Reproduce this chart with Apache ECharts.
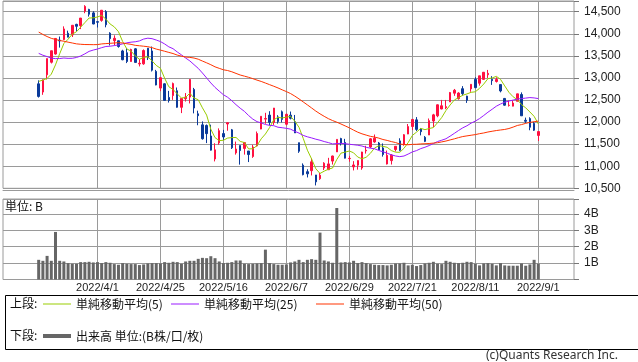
<!DOCTYPE html>
<html><head><meta charset="utf-8">
<script src="https://cdn.jsdelivr.net/npm/echarts@6/dist/echarts.min.js"></script>
<style>html,body{margin:0;padding:0;background:#fff}#c{width:638px;height:362px}</style>
</head><body><div id="c"></div>
<script>
// ---- data ----
const dates = [
 '2022/3/14','2022/3/15','2022/3/16','2022/3/17','2022/3/18','2022/3/21','2022/3/22','2022/3/23','2022/3/24','2022/3/25','2022/3/28','2022/3/29','2022/3/30','2022/3/31',
 '2022/4/1','2022/4/4','2022/4/5','2022/4/6','2022/4/7','2022/4/8','2022/4/11','2022/4/12','2022/4/13','2022/4/14','2022/4/18','2022/4/19','2022/4/20','2022/4/21','2022/4/22','2022/4/25','2022/4/26','2022/4/27','2022/4/28','2022/4/29',
 '2022/5/2','2022/5/3','2022/5/4','2022/5/5','2022/5/6','2022/5/9','2022/5/10','2022/5/11','2022/5/12','2022/5/13','2022/5/16','2022/5/17','2022/5/18','2022/5/19','2022/5/20','2022/5/23','2022/5/24','2022/5/25','2022/5/26','2022/5/27','2022/5/31',
 '2022/6/1','2022/6/2','2022/6/3','2022/6/6','2022/6/7','2022/6/8','2022/6/9','2022/6/10','2022/6/13','2022/6/14','2022/6/15','2022/6/16','2022/6/17','2022/6/21','2022/6/22','2022/6/23','2022/6/24','2022/6/27','2022/6/28','2022/6/29','2022/6/30',
 '2022/7/1','2022/7/5','2022/7/6','2022/7/7','2022/7/8','2022/7/11','2022/7/12','2022/7/13','2022/7/14','2022/7/15','2022/7/18','2022/7/19','2022/7/20','2022/7/21','2022/7/22','2022/7/25','2022/7/26','2022/7/27','2022/7/28','2022/7/29',
 '2022/8/1','2022/8/2','2022/8/3','2022/8/4','2022/8/5','2022/8/8','2022/8/9','2022/8/10','2022/8/11','2022/8/12','2022/8/15','2022/8/16','2022/8/17','2022/8/18','2022/8/19','2022/8/22','2022/8/23','2022/8/24','2022/8/25','2022/8/26','2022/8/29','2022/8/30','2022/8/31',
 '2022/9/1'
];
const tickLabels = ['2022/4/1','2022/4/25','2022/5/16','2022/6/7','2022/6/29','2022/7/21','2022/8/11','2022/9/1'];

const opens = [
 12866,12680,13070,13355,13541,13855,13868,14011,13980,14213,14183,14512,14551,14473,
 14274,14303,14502,14014,13843,13841,13611,13570,13371,13659,13316,13319,13674,13611,13148,12770,12867,12558,12600,12709,
 12334,12529,12566,12738,12187,11937,11923,11685,11164,11529,11739,11956,11824,11302,11469,11403,11345,11220,11461,11842,12067,
 12158,11992,12117,12233,11951,12157,12007,11533,11024,10876,10899,10802,10717,10959,10921,11116,11324,11627,11539,11172,10985,
 11024,10960,11348,11436,11550,11526,11414,11050,11127,11378,11574,11495,11729,11900,12050,11840,11655,11707,12025,12142,
 12297,12323,12456,12654,12529,12756,12588,12751,12968,12880,12967,13072,12969,12919,12849,12535,12377,12361,12471,12624,12041,12079,11970,
 11697
];
const highs = [
 12945,12965,13437,13616,13899,13937,14168,14070,14197,14226,14357,14647,14565,14509,
 14278,14534,14535,14034,13964,13847,13637,13670,13661,13676,13429,13646,13675,13711,13182,13009,12878,12706,12895,12783,
 12539,12657,12975,12774,12258,12015,11945,11941,11520,11857,11823,11985,11844,11558,11469,11549,11345,11484,11786,12131,12209,
 12246,12320,12156,12262,12191,12238,12161,11534,11064,10931,11178,10802,10850,11091,11190,11239,11608,11644,11620,11234,11115,
 11133,11327,11462,11636,11718,11549,11516,11355,11274,11457,11633,11728,11956,12063,12113,11864,11683,12081,12186,12401,
 12502,12501,12682,12750,12676,12814,12596,12856,13015,13047,13132,13181,13040,13014,12851,12546,12485,12488,12640,12672,12101,12109,12003,
 11787
];
const lows = [
 12555,12617,12965,13327,13527,13687,13856,13920,13927,14054,14106,14465,14389,14217,
 14142,14273,14146,13735,13737,13685,13400,13336,13367,13350,13260,13297,13405,13146,12833,12700,12490,12442,12503,12325,
 12203,12465,12422,12197,11928,11602,11524,11355,11109,11487,11597,11804,11390,11263,11036,11263,11094,11190,11448,11839,11963,
 11925,11935,11965,11992,11926,12060,11753,11303,10793,10746,10791,10565,10690,10913,10919,11038,11324,11470,11178,11102,10905,
 10922,10920,11286,11412,11531,11369,11218,11040,11039,11334,11340,11464,11727,11818,11797,11699,11547,11707,11885,12110,
 12290,12292,12455,12594,12509,12599,12434,12686,12769,12825,12955,12999,12842,12895,12673,12371,12351,12357,12471,12141,11978,11815,11799,
 11572
];
const closes = [
 12581,12949,13437,13615,13894,13838,14109,13923,14192,14169,14355,14620,14442,14221,
 14262,14533,14204,13889,13897,13711,13412,13372,13644,13351,13332,13620,13453,13175,12839,13005,12491,12489,12872,12335,
 12536,12564,12965,12318,12145,11623,11738,11364,11371,11805,11663,11985,11418,11389,11355,11535,11264,11435,11741,12131,12081,
 11994,12317,12013,12061,12175,12086,11754,11340,10809,10828,11099,10646,10798,11069,11053,11232,11608,11525,11182,11178,11029,
 11128,11322,11362,11621,11635,11373,11265,11248,11251,11452,11360,11713,11898,12060,11834,11783,11563,12032,12163,12391,
 12369,12349,12668,12721,12658,12644,12494,12855,12780,13047,13128,13103,12938,12965,12705,12382,12381,12432,12639,12142,12018,11883,11816,
 11785
];
const ma5 = [
 12921,12952,12988,13085,13295,13547,13779,13876,13991,14046,14150,14252,14356,14361,
 14380,14416,14332,14222,14157,14047,13823,13656,13607,13498,13422,13464,13480,13386,13284,13218,12993,12800,12739,12638,
 12545,12559,12654,12544,12506,12323,12158,11838,11648,11580,11588,11638,11648,11652,11562,11536,11392,11396,11466,11621,11730,
 11876,12053,12107,12093,12112,12130,12018,11883,11633,11363,11166,10944,10836,10888,10933,10960,11152,11297,11320,11345,11304,
 11208,11168,11204,11292,11414,11463,11451,11428,11354,11318,11315,11405,11535,11697,11773,11858,11828,11854,11875,11986,
 12104,12261,12388,12500,12553,12608,12637,12674,12686,12764,12861,12983,12999,13036,12968,12819,12674,12573,12508,12395,12322,12229,12130,
 11957
];
const ma25 = [
 13556,13514,13483,13448,13437,13439,13451,13443,13445,13463,13496,13545,13601,13631,
 13654,13685,13712,13718,13732,13748,13771,13794,13810,13819,13838,13880,13900,13889,13858,13823,13769,13704,13662,13588,
 13522,13451,13385,13300,13217,13111,12999,12886,12785,12701,12619,12562,12484,12394,12314,12242,12148,12067,12010,11981,11945,
 11925,11918,11883,11872,11858,11839,11790,11751,11698,11666,11641,11612,11589,11559,11535,11505,11513,11518,11511,11497,11487,
 11475,11458,11428,11409,11395,11357,11327,11295,11258,11232,11217,11231,11275,11324,11354,11399,11430,11468,11513,11559,
 11589,11622,11682,11744,11809,11869,11916,11976,12022,12079,12149,12223,12290,12359,12409,12450,12476,12498,12521,12533,12543,12555,12547,
 12532
];
const ma50 = [
 14038,13984,13937,13896,13872,13847,13831,13810,13791,13771,13762,13756,13755,13753,
 13755,13770,13777,13784,13791,13798,13791,13774,13760,13738,13728,13718,13707,13686,13653,13630,13604,13578,13552,13517,
 13493,13473,13465,13450,13424,13382,13342,13299,13251,13217,13184,13167,13139,13102,13066,13040,13014,12983,12950,12920,12884,
 12847,12811,12773,12730,12690,12645,12588,12525,12457,12389,12320,12249,12187,12130,12077,12034,11998,11956,11913,11869,11818,
 11771,11734,11705,11677,11660,11637,11605,11584,11558,11536,11503,11491,11486,11495,11497,11505,11509,11514,11524,11532,
 11551,11570,11596,11620,11648,11672,11687,11702,11716,11737,11753,11775,11792,11808,11821,11833,11854,11886,11923,11943,11971,11993,12008,
 12022
];
const volumes = [
 1.20,1.14,1.44,1.14,2.90,1.14,1.10,1.00,0.96,0.96,1.06,1.06,1.08,1.04,
 1.06,1.00,1.06,1.02,0.94,0.90,1.00,0.96,0.94,0.94,0.88,0.92,0.98,1.00,1.00,0.98,1.06,1.02,1.08,1.06,
 0.96,1.10,1.14,1.14,1.26,1.32,1.30,1.42,1.30,1.10,1.00,1.02,1.06,1.16,1.16,0.96,0.94,0.96,0.98,1.00,1.82,
 1.00,0.94,0.90,0.90,0.92,1.04,1.10,1.20,1.06,1.20,1.24,1.20,2.86,1.16,1.10,1.02,4.36,1.04,1.06,1.04,1.14,
 1.00,1.06,1.00,0.94,0.90,0.88,0.88,0.86,0.90,0.98,0.98,1.02,0.86,0.90,0.82,0.88,0.98,1.02,1.08,0.96,
 0.94,1.14,1.08,1.02,1.00,1.02,1.08,1.06,0.96,0.86,0.98,1.00,0.96,0.86,1.00,0.86,0.84,0.84,0.84,0.98,0.84,0.92,1.20,
 0.96
];
const seriesNames = ['単純移動平均(5)','単純移動平均(25)','単純移動平均(50)','出来高 単位:(B株/口/枚)'];

// ---- build ----
const PAD_L = 8, PAD_R = 8;
const cats = [];
for (let i = 0; i < PAD_L; i++) cats.push('padL' + i);
dates.forEach(d => cats.push(d));
for (let i = 0; i < PAD_R; i++) cats.push('padR' + i);
const pad = arr => Array(PAD_L).fill('-').concat(arr, Array(PAD_R).fill('-'));
const ohlc = dates.map((d, i) => [opens[i], closes[i], lows[i], highs[i]]);

const GRID = '#9a9a9a';
const fmt = v => String(v).replace(/\B(?=(\d{3})+(?!\d))/g, ',');
const vLines = {
  silent: true, z: 1, symbol: ['none', 'none'], label: {show: false},
  lineStyle: {color: GRID, type: 'solid', width: 1}, emphasis: {disabled: true},
  animation: false,
  data: tickLabels.map(d => ({xAxis: d}))
};
const jp = 'Noto Sans CJK JP';
const legendBase = {
  itemWidth: 28, itemHeight: 1, icon: 'rect', selectedMode: false, padding: 0,
  textStyle: {fontSize: 12, fontFamily: jp, color: '#111'}
};

const chart = echarts.init(document.getElementById('c'), null, {renderer: 'canvas'});
chart.setOption({
  animation: false,
  backgroundColor: '#fff',
  grid: [
    {left: 3, right: 64, top: 1, height: 187.3, show: true, borderColor: GRID, borderWidth: 1},
    {left: 3, right: 64, top: 199, height: 80.5, show: true, borderColor: GRID, borderWidth: 1}
  ],
  xAxis: [
    {type: 'category', gridIndex: 0, data: cats, boundaryGap: true, offset: 2,
     axisLine: {show: true, onZero: false, lineStyle: {color: GRID}}, axisTick: {show: false},
     axisLabel: {show: false}, splitLine: {show: false}},
    {type: 'category', gridIndex: 1, data: cats, boundaryGap: true,
     axisLine: {show: false}, axisTick: {show: false}, splitLine: {show: false},
     axisLabel: {show: true, interval: (i, v) => tickLabels.indexOf(v) >= 0, margin: 3,
       fontSize: 11, fontFamily: 'Liberation Sans', color: '#222'}}
  ],
  yAxis: [
    {type: 'value', gridIndex: 0, position: 'right', min: 10500, max: 14742, interval: 500, scale: true,
     axisLine: {show: false}, axisTick: {show: true, length: 5, lineStyle: {color: '#777'}},
     axisLabel: {margin: 10, fontSize: 12, fontFamily: 'Liberation Sans', color: '#222',
       formatter: v => (v % 500 === 0 ? fmt(v) : '')},
     splitLine: {show: true, lineStyle: {color: GRID, width: 1}}},
    {type: 'value', gridIndex: 1, position: 'right', min: 0, max: 4.91, interval: 1,
     axisLine: {show: false}, axisTick: {show: true, length: 5, lineStyle: {color: '#777'}},
     axisLabel: {margin: 10, fontSize: 12, fontFamily: 'Liberation Sans', color: '#222',
       formatter: v => (v > 0 && Number.isInteger(v) ? v + 'B' : '')},
     splitLine: {show: true, lineStyle: {color: GRID, width: 1}}}
  ],
  legend: [
    Object.assign({}, legendBase, {data: [seriesNames[0]], left: 43, top: 298}),
    Object.assign({}, legendBase, {data: [seriesNames[1]], left: 171, top: 298}),
    Object.assign({}, legendBase, {data: [seriesNames[2]], left: 316, top: 298}),
    Object.assign({}, legendBase, {data: [seriesNames[3]], left: 43, top: 330, itemHeight: 4})
  ],
  graphic: [
    {type: 'rect', left: 3, top: 293, silent: true,
     shape: {x: 0, y: 0, width: 633, height: 54}, style: {fill: 'none', stroke: '#000', lineWidth: 1}},
    {type: 'text', left: 10, top: 297, silent: true, style: {text: '上段:', font: '12px "Noto Sans CJK JP"', fill: '#111'}},
    {type: 'text', left: 10, top: 329, silent: true, style: {text: '下段:', font: '12px "Noto Sans CJK JP"', fill: '#111'}},
    {type: 'text', left: 5, top: 200, silent: true, style: {text: '単位: B', font: '12px "Noto Sans CJK JP"', fill: '#111'}},
    {type: 'text', right: 20, top: 350, silent: true, style: {text: '(c)Quants Research Inc.', font: '12px "Noto Sans"', fill: '#333'}}
  ],
  series: [
    {type: 'candlestick', name: '株価', xAxisIndex: 0, yAxisIndex: 0, data: pad(ohlc), barWidth: 2, z: 3,
     itemStyle: {color: '#ff1040', color0: '#0a3a9a', borderColor: '#ff1040', borderColor0: '#0a3a9a', borderWidth: 1}},
    {type: 'line', name: seriesNames[0], xAxisIndex: 0, yAxisIndex: 0, data: pad(ma5), symbol: 'none', z: 4,
     lineStyle: {color: '#99cc00', width: 1}, itemStyle: {color: '#99cc00'}},
    {type: 'line', name: seriesNames[1], xAxisIndex: 0, yAxisIndex: 0, data: pad(ma25), symbol: 'none', z: 4,
     lineStyle: {color: '#9a1aff', width: 1}, itemStyle: {color: '#9a1aff'}},
    {type: 'line', name: seriesNames[2], xAxisIndex: 0, yAxisIndex: 0, data: pad(ma50), symbol: 'none', z: 4,
     lineStyle: {color: '#ff3300', width: 1}, itemStyle: {color: '#ff3300'}, markLine: vLines},
    {type: 'bar', name: seriesNames[3], xAxisIndex: 1, yAxisIndex: 1, data: pad(volumes), barWidth: 3, z: 3,
     itemStyle: {color: '#666'}, markLine: vLines}
  ]
});
</script></body></html>
